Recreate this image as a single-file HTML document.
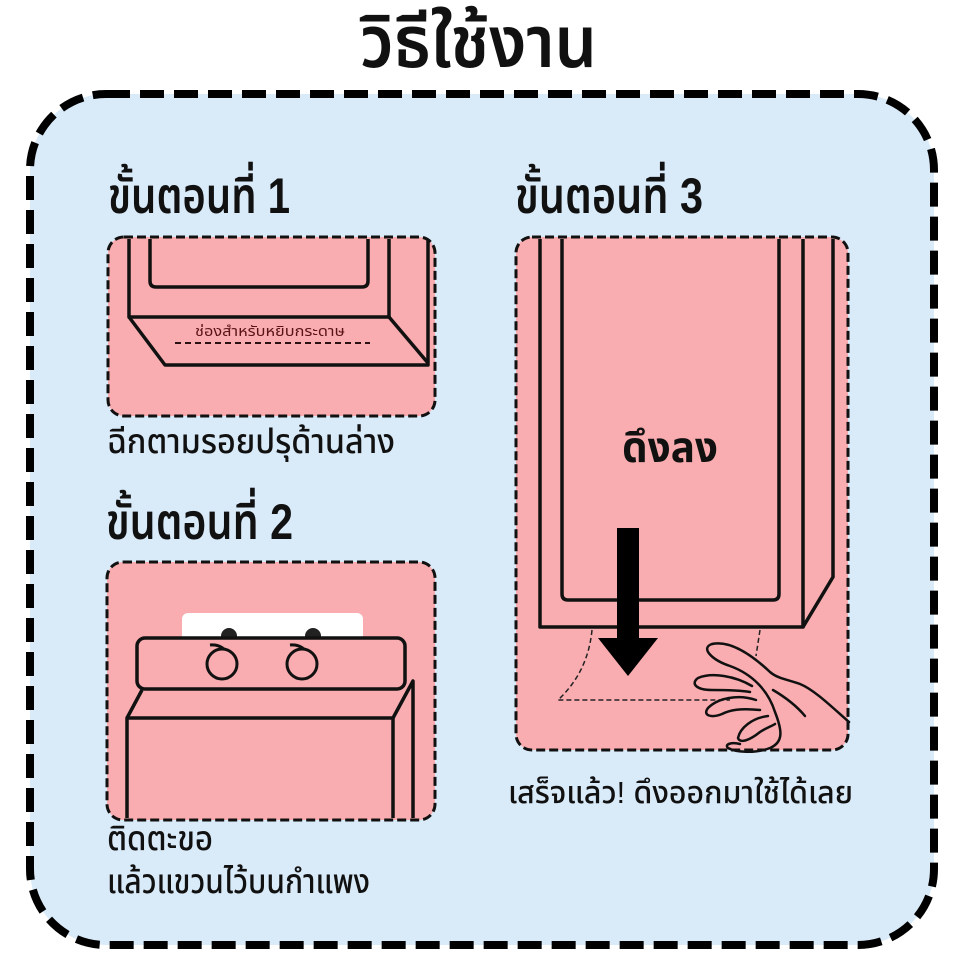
<!DOCTYPE html>
<html><head><meta charset="utf-8"><style>
html,body{margin:0;padding:0;background:#fff;}
svg{display:block;}
text{font-family:"Liberation Sans","Noto Sans Thai","Loma","Garuda","Waree","Norasi","DejaVu Sans","Noto Sans CJK SC",sans-serif;fill:#111;}
</style></head><body>
<svg width="968" height="968" viewBox="0 0 968 968" xmlns="http://www.w3.org/2000/svg">
<rect width="968" height="968" fill="#fff"/>
<!-- outer box -->
<rect x="30" y="94" width="904" height="851" rx="76" fill="#d9eaf9" stroke="#000" stroke-width="8" stroke-dasharray="24 10"/>
<!-- title -->
<text x="360" y="67" font-size="72" font-weight="600" textLength="237" lengthAdjust="spacingAndGlyphs">วิธีใช้งาน</text>

<!-- step headings -->
<text x="108" y="213" font-size="50" font-weight="600" textLength="182" lengthAdjust="spacingAndGlyphs">ขั้นตอนที่ 1</text>
<text x="106" y="539" font-size="50" font-weight="600" textLength="187" lengthAdjust="spacingAndGlyphs">ขั้นตอนที่ 2</text>
<text x="515" y="213" font-size="50" font-weight="600" textLength="188" lengthAdjust="spacingAndGlyphs">ขั้นตอนที่ 3</text>

<!-- panel 1 -->
<rect x="108" y="237" width="327" height="179" rx="16" fill="#f9adb0" stroke="#111" stroke-width="3" stroke-dasharray="9 4"/>
<g fill="none" stroke="#111" stroke-width="3.5" stroke-linejoin="round">
<path d="M129,239 V317 H389 V239"/>
<path d="M150,239 V281 Q150,287 156,287 H362 Q368,287 368,281 V239"/>
<path d="M428,239 V365 H165 L129,317"/>
<path d="M389,317 L428,363"/>
</g>
<text x="195" y="336" font-size="14" fill="#5a1414" style="fill:#5a1414" textLength="150" lengthAdjust="spacingAndGlyphs">ช่องสำหรับหยิบกระดาษ</text>
<line x1="175" y1="343" x2="370" y2="343" stroke="#2a1010" stroke-width="2" stroke-dasharray="6 4"/>
<text x="107" y="453" font-size="34" font-weight="500" textLength="288" lengthAdjust="spacingAndGlyphs">ฉีกตามรอยปรุด้านล่าง</text>

<!-- panel 2 -->
<rect x="107" y="562" width="328" height="258" rx="16" fill="#f9adb0" stroke="#111" stroke-width="3" stroke-dasharray="9 4"/>
<rect x="182" y="613" width="181" height="40" rx="6" fill="#fff"/>
<circle cx="229" cy="636" r="8" fill="#222"/>
<circle cx="313" cy="636" r="8" fill="#222"/>
<g fill="none" stroke="#111" stroke-width="3.5" stroke-linejoin="round">
<path d="M127,818 V718 H393 V818"/>
<path d="M127,718 L142,690"/>
<path d="M393,718 L413,681 V818"/>
</g>
<rect x="137" y="638" width="268" height="51" rx="8" fill="#f9adb0" stroke="#111" stroke-width="3.5"/>
<g fill="none" stroke="#111" stroke-width="3">
<circle cx="222" cy="664" r="15"/>
<circle cx="302" cy="664" r="15"/>
<path d="M210,645 Q218,644 224,649"/>
<path d="M290,645 Q298,644 304,649"/>
</g>
<text x="107" y="850" font-size="34" font-weight="500" textLength="106" lengthAdjust="spacingAndGlyphs">ติดตะขอ</text>
<text x="107" y="893" font-size="34" font-weight="500" textLength="263" lengthAdjust="spacingAndGlyphs">แล้วแขวนไว้บนกำแพง</text>

<!-- panel 3 -->
<rect x="516" y="237" width="332" height="513" rx="16" fill="#f9adb0" stroke="#111" stroke-width="3" stroke-dasharray="9 4"/>
<g fill="none" stroke="#111" stroke-width="3.5" stroke-linejoin="round">
<path d="M540,239 V627 H803 V239"/>
<path d="M562,239 V594 Q562,600 568,600 H773 Q779,600 779,594 V239"/>
<path d="M833,239 V577 L803,627"/>
</g>
<g fill="none" stroke="#222" stroke-width="1.5" stroke-dasharray="5 3">
<path d="M592,630 Q588,672 558,700 H730"/>
<path d="M760,630 L756,656"/>
</g>
<rect x="617" y="528" width="22" height="112" fill="#000"/>
<polygon points="598,638 658,638 628,676" fill="#000"/>
<!-- hand -->
<g fill="none" stroke="#111" stroke-width="2.5" stroke-linecap="round" stroke-linejoin="round">
<path d="M712,644 C730,640 752,655 770,672 C778,679 790,680 800,684 C815,690 835,710 849,722"/>
<path d="M712,644 C700,648 712,660 730,666 C752,674 768,690 775,712 C782,730 784,742 770,748 C755,754 735,752 728,748 C724,744 732,742 740,744"/>
<path d="M773,690 C790,700 800,710 805,716"/>
<path d="M752,686 C735,676 712,672 698,678 C690,684 697,690 712,690 C725,690 738,690 750,692"/>
<path d="M756,700 C738,694 718,698 708,708 C702,716 712,718 722,714 C730,710 740,708 760,710"/>
<path d="M768,716 C752,718 740,728 738,738 C740,744 750,740 760,732 C766,728 772,726 775,724"/>
</g>
<text x="622" y="462" font-size="43" font-weight="bold" textLength="96" lengthAdjust="spacingAndGlyphs">ดึงลง</text>
<text x="508" y="803" font-size="31" font-weight="500" textLength="345" lengthAdjust="spacingAndGlyphs">เสร็จแล้ว! ดึงออกมาใช้ได้เลย</text>
</svg>
</body></html>
